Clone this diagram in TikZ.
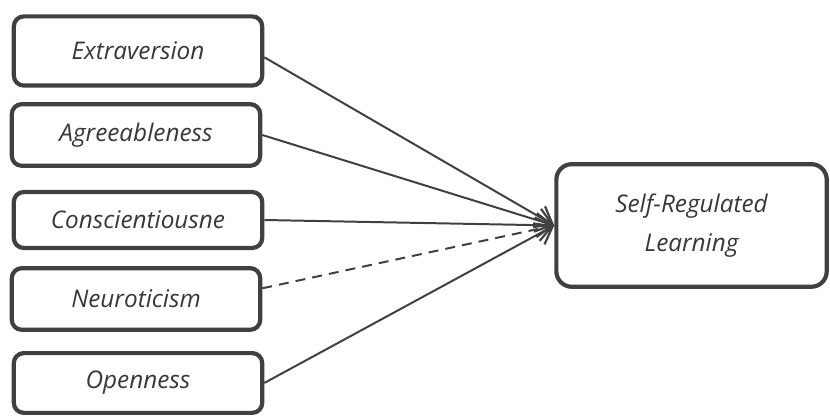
\documentclass[tikz,border=0pt]{standalone}
\usepackage{fontspec}
\setmainfont{Open Sans}
\usetikzlibrary{arrows.meta}

\definecolor{boxline}{HTML}{404040}
\definecolor{boxtext}{HTML}{383838}

\tikzset{
	factor/.style={draw=boxline, line width=1.9pt, rounded corners=4.5pt, minimum width=3.95cm, inner sep=0pt, text=boxtext, font=\fontsize{11}{17.6}\selectfont\itshape},
	outcome/.style={factor, minimum width=4.3cm, minimum height=1.95cm, rounded corners=7pt, align=center},
	link/.style={draw=boxline, line width=0.9pt, -{Straight Barb[length=2.5mm,width=3.8mm,line width=1pt]}}
}

\begin{document}
\begin{tikzpicture}
	\useasboundingbox (0,0) rectangle (13.2,6.632); % page size
	
	% five personality factors
	\node[factor, minimum height=1.1cm] (ext) at (2.195,5.821) {Extraversion};
	\node[factor, minimum height=0.98cm] (agr) at (2.163,4.485) {Agreeableness};
	\node[factor, minimum height=0.89cm] (con) at (2.195,3.133) {Conscientiousne};
	\node[factor, minimum height=0.98cm] (neu) at (2.163,1.877) {Neuroticism};
	\node[factor, minimum height=0.95cm] (opn) at (2.195,0.541) {Openness};
	
	% outcome
	\node[outcome] (srl) at (10.998,3.046) {Self-Regulated\\Learning};
	
	% arrows
	\draw[link] ([yshift=-0.1cm]ext.east) -- (srl.west);
	\draw[link] (agr.east) -- (srl.west);
	\draw[link] (con.east) -- (srl.west);
	\draw[link, dash pattern=on 4.5pt off 3.2pt] ([yshift=0.17cm]neu.east) -- (srl.west);
	\draw[link] (opn.east) -- (srl.west);
\end{tikzpicture}
\end{document}
